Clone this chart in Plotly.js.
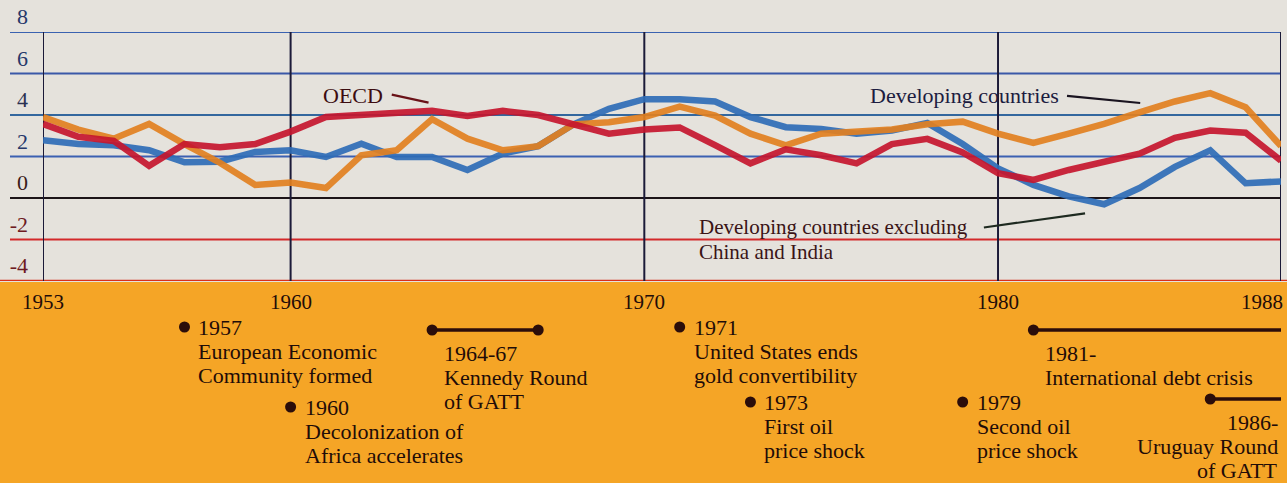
<!DOCTYPE html>
<html>
<head>
<meta charset="utf-8">
<script src="https://cdn.plot.ly/plotly-3.0.1.min.js"></script>
<style>
  html, body { margin: 0; padding: 0; background: #e5e2dc; }
  #chart { width: 1287px; height: 483px; }
</style>
</head>
<body>
<div id="chart"></div>
<script>
// ---------------- DATA ----------------
const years = [1953, 1954, 1955, 1956, 1957, 1958, 1959, 1960, 1961, 1962, 1963, 1964,
               1965, 1966, 1967, 1968, 1969, 1970, 1971, 1972, 1973, 1974, 1975, 1976,
               1977, 1978, 1979, 1980, 1981, 1982, 1983, 1984, 1985, 1986, 1987, 1988];

const oecd = [3.57, 2.95, 2.75, 1.55, 2.6, 2.45, 2.6, 3.2, 3.9, 4.0, 4.1, 4.2,
              3.95, 4.2, 4.0, 3.55, 3.1, 3.3, 3.4, 2.55, 1.67, 2.35, 2.06, 1.67,
              2.6, 2.85, 2.2, 1.2, 0.87, 1.35, 1.75, 2.14, 2.9, 3.25, 3.15, 1.8];

const developing = [3.9, 3.3, 2.86, 3.57, 2.6, 1.7, 0.63, 0.75, 0.48, 2.06, 2.3, 3.8,
                    2.86, 2.3, 2.5, 3.55, 3.65, 3.9, 4.4, 3.97, 3.1, 2.54, 3.1, 3.2,
                    3.3, 3.55, 3.68, 3.1, 2.65, 3.1, 3.57, 4.13, 4.65, 5.05, 4.37, 2.5];

const developingExChinaIndia = [2.78, 2.6, 2.54, 2.3, 1.72, 1.75, 2.22, 2.3, 1.98, 2.62, 1.98, 1.98,
                                1.35, 2.14, 2.5, 3.55, 4.3, 4.76, 4.76, 4.65, 3.9, 3.41, 3.33, 3.1,
                                3.25, 3.62, 2.6, 1.43, 0.63, 0.08, -0.3, 0.48, 1.5, 2.3, 0.71, 0.8];

const seriesNames = ['OECD', 'Developing countries', 'Developing countries excluding China and India'];
const exLabelLines = ['Developing countries excluding', 'China and India'];

const yTickValues = [8, 6, 4, 2, 0, -2, -4];
const yTickLabels = ['8', '6', '4', '2', '0', '-2', '-4'];
const yearTickValues = [1953, 1960, 1970, 1980, 1988];
const yearTickLabels = ['1953', '1960', '1970', '1980', '1988'];

// timeline: single-year events
const eventYears = [1957, 1960, 1971, 1973, 1979];
const eventTitles = ['1957', '1960', '1971', '1973', '1979'];
const eventTexts = [
  ['European Economic', 'Community formed'],
  ['Decolonization of', 'Africa accelerates'],
  ['United States ends', 'gold convertibility'],
  ['First oil', 'price shock'],
  ['Second oil', 'price shock']
];
// timeline: periods (null end = still ongoing)
const periodStarts = [1964, 1981, 1986];
const periodEnds = [1967, null, null];
const periodTitles = ['1964-67', '1981-', '1986-'];
const periodTexts = [
  ['Kennedy Round', 'of GATT'],
  ['International debt crisis'],
  ['Uruguay Round', 'of GATT']
];

// ---------------- LAYOUT / STYLE ----------------
const W = 1287, H = 483;
const M = { l: 43, r: 6, t: 32, b: 202 };
const plotH = H - M.t - M.b;          // 249
const plotW = W - M.l - M.r;          // 1238
const py = (pix) => (H - M.b - pix) / plotH;   // pixel row -> paper y
const px = (pix) => (pix - M.l) / plotW;       // pixel col -> paper x

const FONT = 'Liberation Serif, Times New Roman, serif';
const INK = '#1f0c08';
const BG = '#e5e2dc';
const ORANGE = '#f5a526';

const gridColors = ['#3a62b0', '#3a58a8', '#33679e', '#3c60b2', '#1c1418', '#d3292a', '#d8301c'];
const tickColors = ['#26386a', '#26386a', '#2a3152', '#26386a', '#3a1a18', '#6e1a22', '#6e1a22'];

const eventRows = [327, 407, 327, 402, 402];
const periodRows = [330, 330, 399];
const periodAlign = ['left', 'left', 'right'];

const shapes = [];
const annotations = [];

// orange timeline band
shapes.push({ type: 'rect', xref: 'paper', yref: 'paper', x0: px(-5), x1: px(W + 5),
  y0: py(H + 5), y1: py(282), fillcolor: ORANGE, line: { width: 0 }, layer: 'below' });

// horizontal grid lines
yTickValues.forEach((v, i) => {
  const isBottom = v === -4;
  shapes.push({ type: 'line', xref: 'paper', yref: 'y',
    x0: isBottom ? px(0) : px(10), x1: isBottom ? px(W) : 1, y0: v, y1: v,
    line: { color: gridColors[i], width: isBottom ? 2.5 : 2 }, layer: 'below' });
});
// vertical decade lines
yearTickValues.forEach((yr) => {
  shapes.push({ type: 'line', xref: 'x', yref: 'y', x0: yr, x1: yr, y0: -4, y1: 8,
    line: { color: '#1b1a38', width: 2 }, layer: 'below' });
});

// year labels in band
yearTickValues.forEach((yr, i) => {
  const last = i === yearTickValues.length - 1;
  annotations.push({ xref: 'x', yref: 'paper', x: yr, y: py(302),
    xanchor: last ? 'right' : 'center', yanchor: 'middle', xshift: last ? 4 : 0,
    text: yearTickLabels[i], showarrow: false, font: { family: FONT, size: 21, color: INK } });
});

// series labels and leaders
const labelFont = (c, s) => ({ family: FONT, size: s || 22, color: c });
annotations.push({ xref: 'x', yref: 'y', x: 1961.76, y: 4.96, text: seriesNames[0], showarrow: false,
  xanchor: 'center', yanchor: 'middle', font: labelFont('#3c0c10') });
shapes.push({ type: 'line', xref: 'x', yref: 'y', x0: 1962.86, y0: 4.98, x1: 1963.9, y1: 4.6,
  line: { color: '#6a1218', width: 2.2 } });
annotations.push({ xref: 'x', yref: 'y', x: 1979.04, y: 4.96, text: seriesNames[1], showarrow: false,
  xanchor: 'center', yanchor: 'middle', font: labelFont('#1c1c40') });
shapes.push({ type: 'line', xref: 'x', yref: 'y', x0: 1981.95, y0: 4.92, x1: 1984.02, y1: 4.58,
  line: { color: '#1a1420', width: 2.2 } });
annotations.push({ xref: 'x', yref: 'y', x: 1971.49, y: -1.4, text: exLabelLines[0],
  showarrow: false, xanchor: 'left', yanchor: 'middle', font: labelFont('#3a1416', 21) });
annotations.push({ xref: 'x', yref: 'y', x: 1971.49, y: -2.58, text: exLabelLines[1],
  showarrow: false, xanchor: 'left', yanchor: 'middle', font: labelFont('#3a1416', 21) });
shapes.push({ type: 'line', xref: 'x', yref: 'y', x0: 1979.6, y0: -1.42, x1: 1982.46, y1: -0.74,
  line: { color: '#1e2a20', width: 2.2 } });

// timeline events
const TL = '#2b0d0a';
const dot = (xr, yrow) => ({ type: 'circle', xref: 'x', yref: 'paper', xsizemode: 'pixel', ysizemode: 'pixel',
  xanchor: xr, yanchor: py(yrow), x0: -5.5, x1: 5.5, y0: -5.5, y1: 5.5,
  fillcolor: TL, line: { color: TL, width: 0 } });
const textLine = (xr, ypix, txt, anchor, shift) => ({ xref: 'x', yref: 'paper', x: xr, y: py(ypix),
  xanchor: anchor, yanchor: 'middle', xshift: shift, text: txt, showarrow: false,
  font: { family: FONT, size: 22, color: INK } });

eventYears.forEach((yr, i) => {
  const row = eventRows[i];
  shapes.push(dot(yr, row));
  annotations.push(textLine(yr, row, eventTitles[i], 'left', 12));
  eventTexts[i].forEach((t, j) => annotations.push(textLine(yr, row + 24 * (j + 1), t, 'left', 12)));
});

periodStarts.forEach((yr, i) => {
  const row = periodRows[i];
  const end = periodEnds[i];
  if (end !== null) {
    shapes.push({ type: 'line', xref: 'x', yref: 'paper', x0: yr, x1: end, y0: py(row), y1: py(row),
      line: { color: TL, width: 3.5 } });
    shapes.push(dot(end, row));
  } else {
    shapes.push({ type: 'line', xref: 'x', yref: 'paper', x0: yr, x1: 1988.2, y0: py(row), y1: py(row),
      line: { color: TL, width: 3.5 } });
  }
  shapes.push(dot(yr, row));
  const right = periodAlign[i] === 'right';
  const ax = right ? 1988 : yr;
  const anchor = right ? 'right' : 'left';
  const shift = right ? -1 : 10;
  annotations.push(textLine(ax, row + 23, periodTitles[i], anchor, shift));
  periodTexts[i].forEach((t, j) => annotations.push(textLine(ax, row + 23 + 24 * (j + 1), t, anchor, shift)));
});

// ---------------- TRACES ----------------
const mk = (y, name, color) => ({ type: 'scatter', mode: 'lines', x: years, y: y, name: name,
  line: { color: color, width: 6.5, shape: 'linear' }, opacity: 0.92, hoverinfo: 'x+y+name' });

const traces = [
  mk(developingExChinaIndia, seriesNames[2], '#2f6cb6'),
  mk(developing, seriesNames[1], '#e2801f'),
  mk(oecd, seriesNames[0], '#c6162e')
];

const layout = {
  width: W, height: H,
  margin: M,
  paper_bgcolor: BG, plot_bgcolor: BG,
  showlegend: false,
  xaxis: { range: [1953, 1988], showgrid: false, zeroline: false, showticklabels: false,
           ticks: '', showline: false, fixedrange: true },
  yaxis: { range: [-4, 8], showgrid: false, zeroline: false, showline: false, ticks: '',
           tickvals: yTickValues,
           ticktext: yTickLabels.map((t, i) => '<span style="color:' + tickColors[i] + '">' + t + '</span>'),
           ticklabelposition: 'outside top', ticklabelstandoff: 14,
           tickfont: { family: FONT, size: 22, color: INK }, fixedrange: true },
  shapes: shapes,
  annotations: annotations
};

Plotly.newPlot('chart', traces, layout, { displayModeBar: false, staticPlot: true });
</script>
</body>
</html>
